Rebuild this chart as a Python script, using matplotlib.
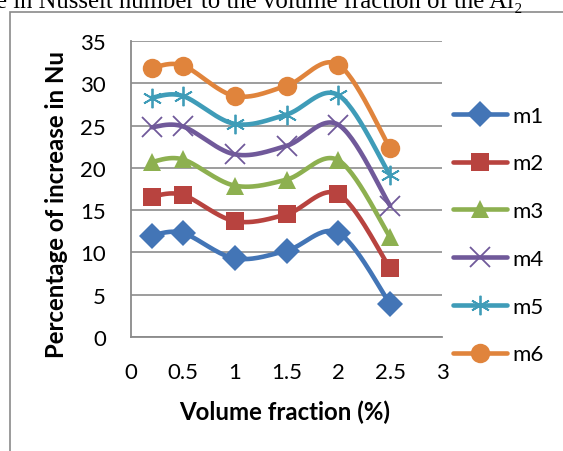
import numpy as np
import matplotlib.pyplot as plt
from matplotlib.patches import Rectangle
from matplotlib.lines import Line2D

# Data
vol = [0.2, 0.5, 1, 1.5, 2, 2.5]
m1 = [12.0, 12.3, 9.3, 10.2, 12.3, 3.9]
m2 = [16.6, 16.8, 13.7, 14.5, 16.9, 8.1]
m3 = [20.7, 21.0, 17.9, 18.6, 20.9, 11.8]
m4 = [24.8, 24.9, 21.6, 22.6, 25.1, 15.5]
m5 = [28.3, 28.5, 25.2, 26.3, 28.6, 19.1]
m6 = [31.8, 32.1, 28.5, 29.7, 32.2, 22.3]
labels = ['m1', 'm2', 'm3', 'm4', 'm5', 'm6']

colors = ['#4375B6', '#B8433F', '#8DB050', '#70599A', '#3F9CB8', '#E0843C']
markers = ['D', 's', '^', 'x', (6, 2, 0), 'o']
msizes = [13, 13, 13, 14, 14, 14]


def smooth(x, y, n=30):
    # Excel-like smoothed line (Catmull-Rom as cubic Bezier)
    p = np.column_stack([x, y]).astype(float)
    p = np.vstack([p[0], p, p[-1]])
    t = np.linspace(0, 1, n)[:, None]
    out = []
    for i in range(1, len(p) - 2):
        p0, p1, p2, p3 = p[i - 1], p[i], p[i + 1], p[i + 2]
        c1 = p1 + (p2 - p0) / 6
        c2 = p2 - (p3 - p1) / 6
        out.append((1 - t) ** 3 * p1 + 3 * (1 - t) ** 2 * t * c1
                   + 3 * (1 - t) * t ** 2 * c2 + t ** 3 * p2)
    s = np.vstack(out)
    return s[:, 0], s[:, 1]


plt.rcParams['font.family'] = ['Lato', 'DejaVu Sans']
W, H = 563, 452
fig = plt.figure(figsize=(W / 100, H / 100), dpi=100)

# caption line cut off at the top of the picture
fig.text(-4 / W, 1 - 8 / H, 'e in Nusselt number to the volume fraction of the Al\u2082',
         family=['Liberation Serif', 'DejaVu Serif'], fontsize=17.8,
         ha='left', va='baseline')

# chart area border
fig.patches.append(Rectangle((10 / W, -0.1), 1.2, 1 - 12.5 / H + 0.1,
                             transform=fig.transFigure, fill=False,
                             edgecolor='#8a8a8a', linewidth=1.2))

ax = fig.add_axes([131 / W, 1 - 338 / H, 311 / W, 296 / H])
ax.set_xlim(0, 3)
ax.set_ylim(0, 35)
ax.set_xticks([0, 0.5, 1, 1.5, 2, 2.5, 3])
ax.set_xticklabels(['0', '0.5', '1', '1.5', '2', '2.5', '3'])
ax.set_yticks(range(0, 36, 5))
ax.tick_params(length=0, labelsize=16, pad=18)
ax.grid(axis='y', color='#8c8c8c', linewidth=1.2)
ax.set_axisbelow(True)
for side in ['top', 'right']:
    ax.spines[side].set_visible(False)
for side in ['left', 'bottom']:
    ax.spines[side].set_color('#8a8a8a')
    ax.spines[side].set_linewidth(1.3)

handles = []
for ys, lab, c, mk, ms in zip([m1, m2, m3, m4, m5, m6], labels, colors, markers, msizes):
    sx, sy = smooth(vol, ys)
    mew = 1.3 if mk in ('x', (6, 2, 0)) else 0
    ax.plot(sx, sy, color=c, linewidth=3.3, solid_capstyle='round', clip_on=False)
    ax.plot(vol, ys, linestyle='none', marker=mk, markersize=ms, color=c,
            markeredgewidth=mew, clip_on=False)
    handles.append(Line2D([], [], color=c, linewidth=3.3, marker=mk, markersize=ms,
                          markeredgewidth=mew, solid_capstyle='round', label=lab))

fig.legend(handles=handles, loc='center left', bbox_to_anchor=(453 / W, 1 - 236 / H),
           frameon=False, fontsize=16, handlelength=2.45, handletextpad=0.2,
           labelspacing=1.25, borderpad=0, borderaxespad=0, numpoints=1)

fig.text(57 / W, 1 - 204 / H, 'Percentage of increase in Nu', rotation=90,
         ha='center', va='center', fontsize=17.3, fontweight='bold')
fig.text(285 / W, 1 - 412 / H, 'Volume fraction (%)', ha='center', va='center',
         fontsize=17.3, fontweight='bold')

fig.savefig('out.png', dpi=100)
